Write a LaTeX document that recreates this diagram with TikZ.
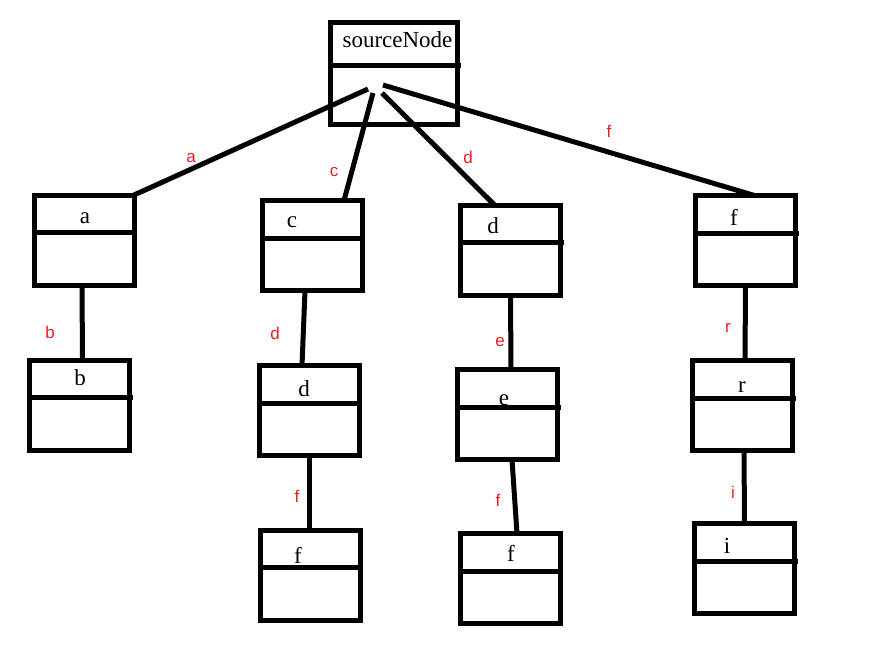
\documentclass[tikz,border=0pt]{standalone}
\usepackage{fontspec}
\setmainfont{Liberation Serif}
\newfontfamily\lblfont{Liberation Sans}
\usetikzlibrary{calc}
\definecolor{lblred}{RGB}{237,28,36}
\tikzset{
  box/.style={draw, line width=5pt, rectangle, minimum width=100pt, minimum height=90pt, inner sep=0pt, outer sep=0pt},
  conn/.style={line width=5pt},
  nm/.style={font=\fontsize{23}{23}\selectfont, anchor=base, inner sep=0pt},
  elabel/.style={font=\lblfont\fontsize{17}{17}\selectfont, text=lblred, inner sep=0pt},
}
\newcommand\boxdivider[2]{\draw[conn] ($(#1.north west)+(0,#2)$) -- ($(#1.north east)+(3,#2)$);}
\begin{document}
\begin{tikzpicture}[x=1pt,y=-1pt]
\useasboundingbox (0,0) rectangle (874,657);
% boxes
\node[box, minimum width=127pt, minimum height=102pt] (src) at (394,73.5) {};
\node[box] (a) at (84,240) {};
\node[box] (b) at (79.5,405) {};
\node[box] (c) at (312,245.5) {};
\node[box] (d2) at (309,410.5) {};
\node[box] (fd) at (310,575) {};
\node[box] (d1) at (510.5,250) {};
\node[box] (e) at (507.5,414.5) {};
\node[box] (fe) at (510,578.5) {};
\node[box] (f1) at (745.5,240.5) {};
\node[box] (r) at (742.5,405.5) {};
\node[box] (i) at (744.5,568.5) {};
% dividers
\boxdivider{src}{42.5}
\foreach \n in {a,b,c,d2,fd,d1,e,fe,f1,r,i}{\boxdivider{\n}{37.5}}
% box texts
\node[nm] (tsrc) at (397.5,47) {sourceNode};
\node[nm] (ta) at (85,223) {a};
\node[nm] (tb) at (80,385) {b};
\node[nm] (tc) at (292,227) {c};
\node[nm] (td2) at (304,396) {d};
\node[nm] (tfd) at (298,563) {f};
\node[nm] (td1) at (493,233) {d};
\node[nm] (te) at (504,405) {e};
\node[nm] (tfe) at (511,561) {f};
\node[nm] (tf1) at (734,225) {f};
\node[nm] (tr) at (742,392) {r};
\node[nm] (ti) at (727,553) {i};
% start points inside sourceNode
\coordinate (pa) at (368,89);
\coordinate (pc) at (373,93);
\coordinate (pd) at (382,93);
\coordinate (pf) at (383,85);
% connectors
\draw[conn] (pa) -- (a.north east);
\draw[conn] (pc) -- ([xshift=32pt]c.north);
\draw[conn] (pd) -- ([xshift=-16pt]d1.north);
\draw[conn] (pf) -- ([xshift=9pt]f1.north);
\draw[conn] ([xshift=-2pt]a.south) -- ([xshift=3pt]b.north);
\draw[conn] ([xshift=-7pt]c.south) -- ([xshift=-7pt]d2.north);
\draw[conn] (d2.south) -- ([xshift=-1pt]fd.north);
\draw[conn] (d1.south) -- ([xshift=3.5pt]e.north);
\draw[conn] ([xshift=4.5pt]e.south) -- ([xshift=7pt]fe.north);
\draw[conn] (f1.south) -- ([xshift=2.5pt]r.north);
\draw[conn] ([xshift=1.5pt]r.south) -- (i.north);
% edge labels
\node[elabel] (la) at (191,158) {a};
\node[elabel] (lc) at (334,172) {c};
\node[elabel] (ld) at (468,157) {d};
\node[elabel] (lf) at (609,131) {f};
\node[elabel] (lb) at (50,332) {b};
\node[elabel] (ld2) at (275,333) {d};
\node[elabel] (lfd) at (297,496) {f};
\node[elabel] (le) at (500,342) {e};
\node[elabel] (lfe) at (498,500) {f};
\node[elabel] (lr) at (728,328) {r};
\node[elabel] (li) at (733,492) {i};
\end{tikzpicture}
\end{document}
